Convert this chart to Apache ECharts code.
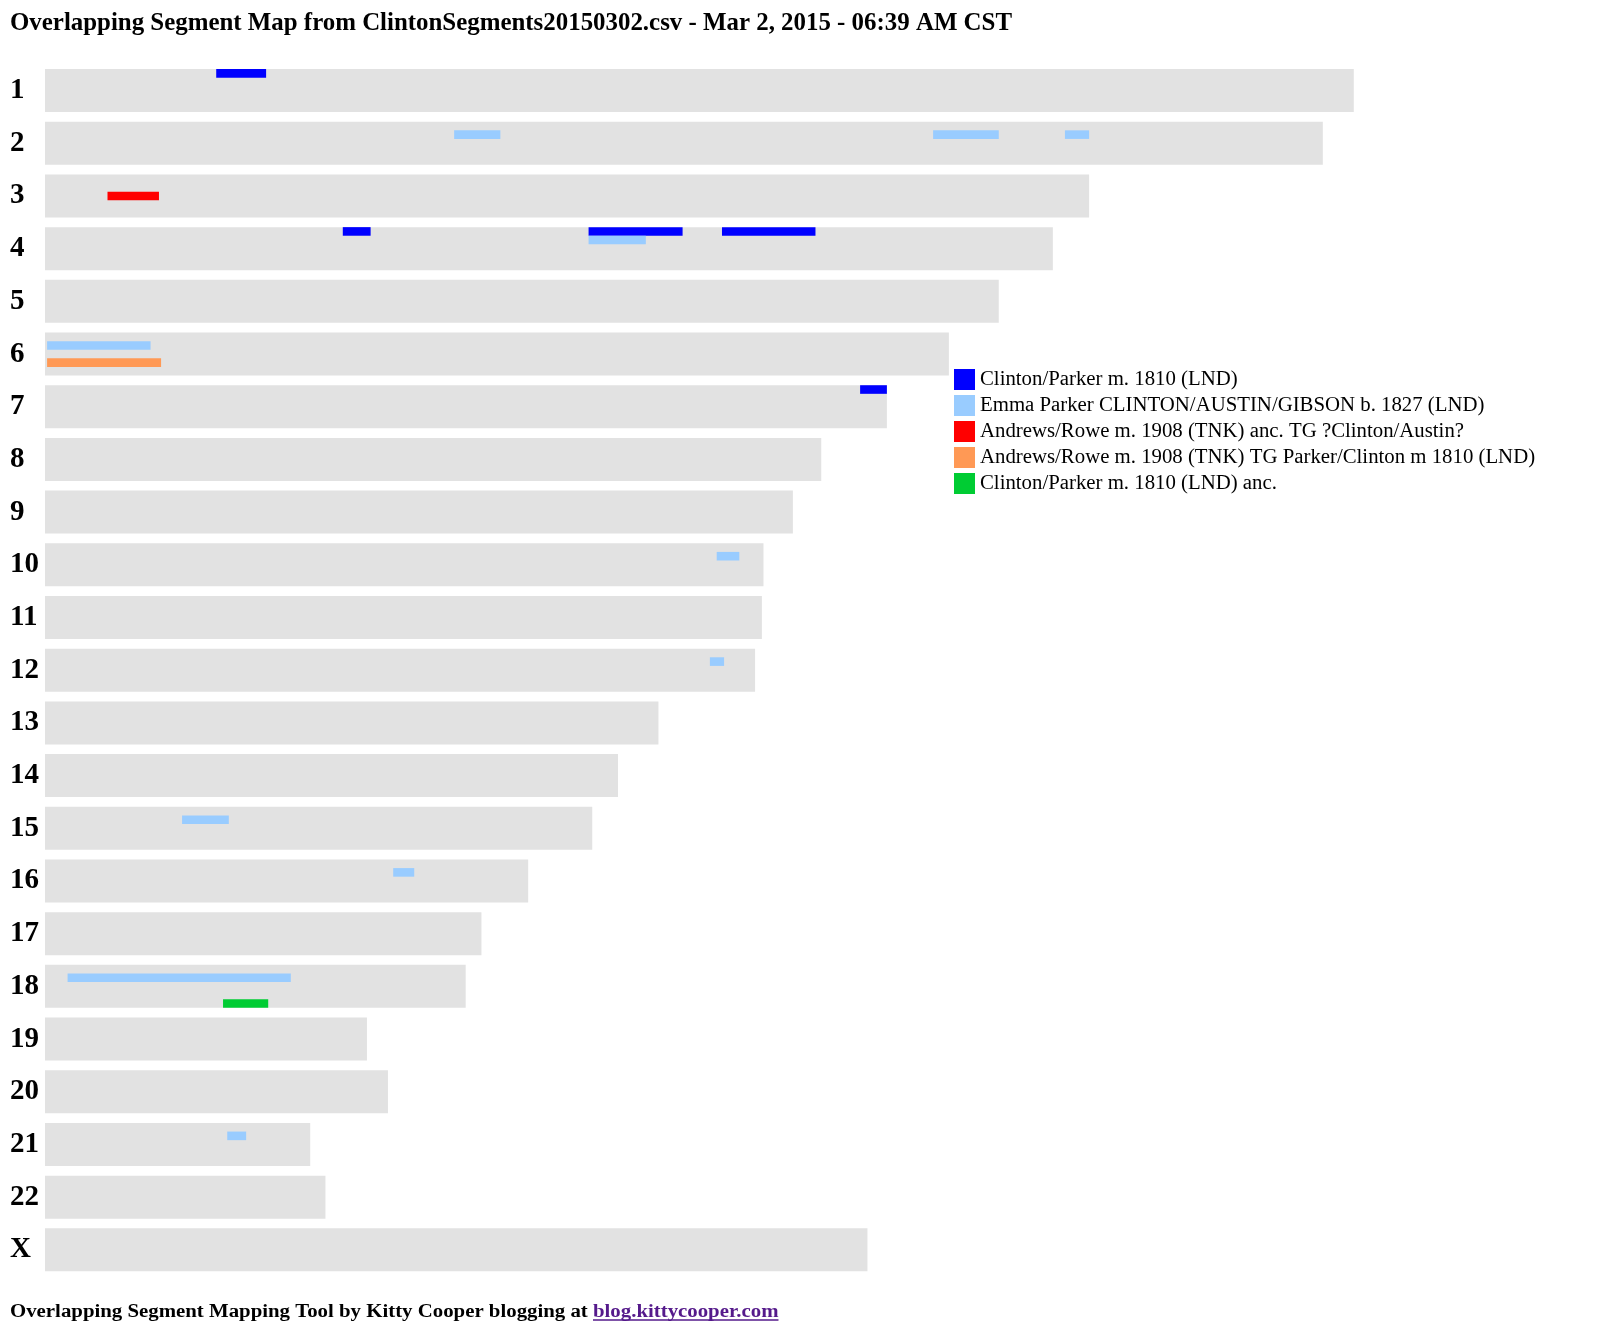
<!DOCTYPE html>
<html><head><meta charset="utf-8">
<script src="https://cdn.jsdelivr.net/npm/echarts@6/dist/echarts.min.js"></script>
<style>html,body{margin:0;padding:0;background:#fff}#c{width:1600px;height:1339px}</style>
</head><body><div id="c"></div>
<script>
// ---- data (Mb) ----
const chromosomes = ['1','2','3','4','5','6','7','8','9','10','11','12','13','14','15','16','17','18','19','20','21','22','X'];
const chromosomeLengths = [249.2, 243.3, 198.8, 191.9, 181.6, 172.1, 160.3, 147.8, 142.4, 136.8, 136.5, 135.2, 116.8, 109.1, 104.2, 92.0, 83.1, 80.1, 61.3, 65.3, 50.5, 53.4, 156.6];
const seriesNames = [
  'Clinton/Parker m. 1810 (LND)',
  'Emma Parker CLINTON/AUSTIN/GIBSON b. 1827 (LND)',
  'Andrews/Rowe m. 1908 (TNK) anc. TG ?Clinton/Austin?',
  'Andrews/Rowe m. 1908 (TNK) TG Parker/Clinton m 1810 (LND)',
  'Clinton/Parker m. 1810 (LND) anc.'
];
const seriesColors = ['#0000ff', '#99ccff', '#ff0000', '#ff9955', '#00cc33'];
// [chromosome index, start Mb, end Mb]
const segClintonParker = [[0, 32.6, 42.1], [3, 56.7, 62.0], [3, 103.5, 121.4], [3, 128.9, 146.7], [6, 155.2, 160.3]];
const segEmmaParker = [[1, 77.9, 86.7], [1, 169.1, 181.6], [1, 194.2, 198.8], [3, 103.5, 114.4], [5, 0.4, 20.1], [9, 127.9, 132.2], [11, 126.6, 129.3], [14, 26.1, 35.0], [15, 66.3, 70.3], [17, 4.3, 46.8], [20, 34.7, 38.3]];
const segAndrewsAnc = [[2, 11.9, 21.7]];
const segAndrewsTG = [[5, 0.4, 22.1]];
const segClintonAnc = [[17, 33.9, 42.5]];
const segmentGroups = [segClintonParker, segEmmaParker, segAndrewsAnc, segAndrewsTG, segClintonAnc];

const titleText = 'Overlapping Segment Map from ClintonSegments20150302.csv - Mar 2, 2015 - 06:39 AM CST';
const footerText = 'Overlapping Segment Mapping Tool by Kitty Cooper blogging at ';
const footerLink = 'blog.kittycooper.com';

// ---- chart ----
const SERIF = '"Liberation Serif", "Times New Roman", serif';
const BAR_H = 43;
const chart = echarts.init(document.getElementById('c'), null, {renderer: 'canvas'});

function laneRender(lane) {
  return function (params, api) {
    const chr = api.value(0);
    const p1 = api.coord([api.value(1), chr]);
    const p2 = api.coord([api.value(2), chr]);
    const laneH = BAR_H / 5;
    const top = p1[1] - BAR_H / 2 + lane * laneH;
    return {
      type: 'rect',
      shape: {x: p1[0], y: top, width: p2[0] - p1[0], height: laneH},
      style: {fill: api.visual('color')}
    };
  };
}

const segSeries = segmentGroups.map((g, i) => ({
  type: 'custom',
  name: seriesNames[i],
  itemStyle: {color: seriesColors[i]},
  renderItem: laneRender(i),
  encode: {x: [1, 2], y: 0},
  data: g,
  z: 3
}));

const FOOT_FONT = 'bold 18px ' + SERIF;
const cv = document.createElement('canvas').getContext('2d');
cv.font = FOOT_FONT;
const w1 = cv.measureText(footerText).width;
const w2 = cv.measureText(footerLink).width;
const FOOT_Y = 1303;

chart.setOption({
  animation: false,
  backgroundColor: '#ffffff',
  title: {
    text: titleText, left: 10, top: 11, padding: 0,
    textStyle: {fontFamily: SERIF, fontWeight: 'bold', fontSize: 24.9, color: '#000'}
  },
  legend: {
    data: seriesNames, orient: 'vertical', left: 954, top: 369,
    itemWidth: 21, itemHeight: 21, itemGap: 5, icon: 'rect', padding: 0,
    textStyle: {fontFamily: SERIF, fontSize: 20.8, lineHeight: 21, color: '#000'}
  },
  grid: {left: 45, width: 290 * 5.252, top: 64.2, bottom: 62.8, containLabel: false},
  xAxis: {type: 'value', min: 0, max: 290, show: false},
  yAxis: {
    type: 'category', data: chromosomes, inverse: true,
    axisLine: {show: false}, axisTick: {show: false}, splitLine: {show: false},
    axisLabel: {align: 'left', margin: 35, fontFamily: SERIF, fontWeight: 'bold', fontSize: 29, color: '#000'}
  },
  series: [{
    type: 'bar', name: 'chromosome', data: chromosomeLengths, barWidth: BAR_H,
    itemStyle: {color: '#e2e2e2'}, silent: true, z: 1
  }].concat(segSeries),
  graphic: [{
    type: 'group', x: 10, y: FOOT_Y, scaleX: 1.157, scaleY: 1,
    children: [
      {type: 'text', x: 0, y: 0, style: {text: footerText, font: FOOT_FONT, fill: '#000'}},
      {type: 'text', x: w1, y: 0, style: {text: footerLink, font: FOOT_FONT, fill: '#551a8b'}},
      {type: 'line', shape: {x1: w1, y1: 17, x2: w1 + w2, y2: 17}, style: {stroke: '#551a8b', lineWidth: 1.5}}
    ]
  }]
});
</script></body></html>
